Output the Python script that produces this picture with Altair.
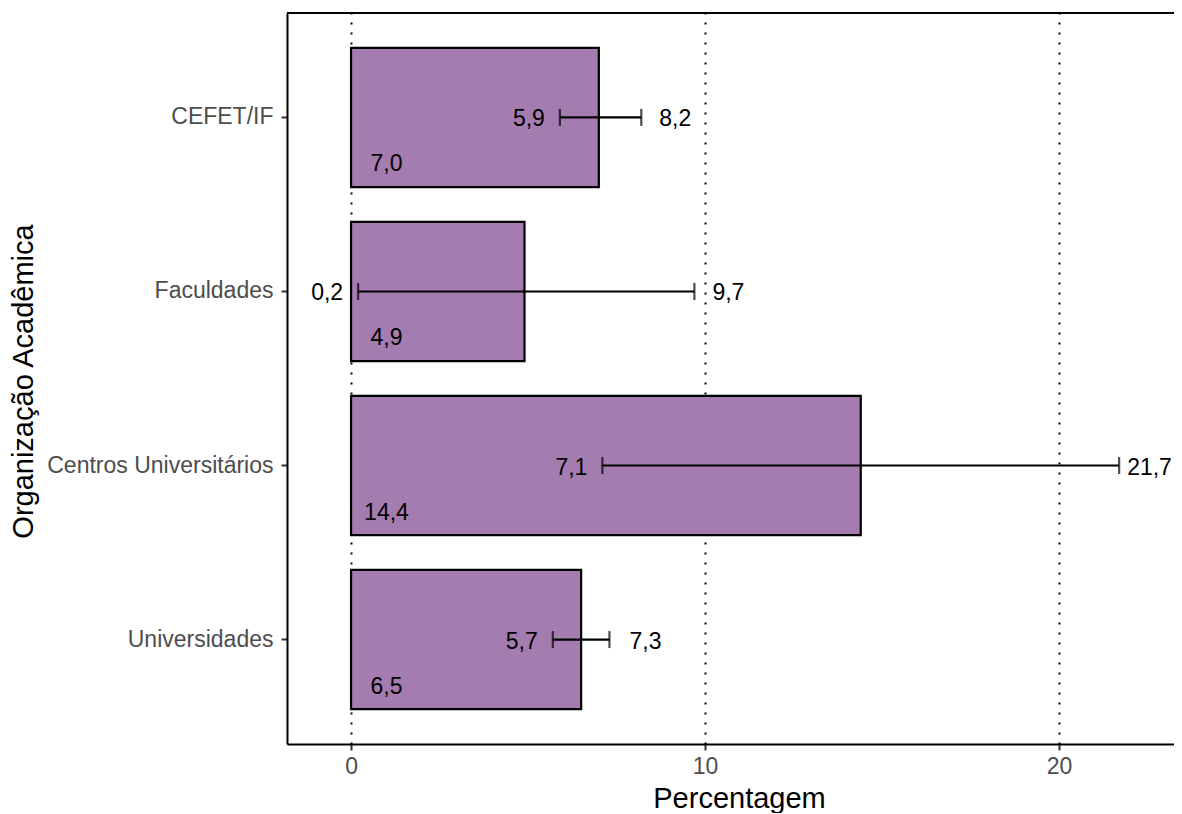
import altair as alt
import pandas as pd

categories = ["CEFET/IF", "Faculdades", "Centros Universitários", "Universidades"]
values = [7.0, 4.9, 14.4, 6.5]
lower = [5.9, 0.2, 7.1, 5.7]
upper = [8.2, 9.7, 21.7, 7.3]
upper_label_gap = [18, 18, 8, 20]


def fmt(v):
    return f"{v:.1f}".replace(".", ",")


df = pd.DataFrame({
    "cat": categories,
    "val": values,
    "lo": lower,
    "hi": upper,
    "gap": upper_label_gap,
    "val_lbl": [fmt(v) for v in values],
    "lo_lbl": [fmt(v) for v in lower],
    "hi_lbl": [fmt(v) for v in upper],
    "lbl_x": [1.0] * len(categories),
})

W = 887
H = 731
FONT = "Liberation Sans"

xscale = alt.Scale(domain=[-1.81, 23.25], nice=False, zero=False)
yscale = alt.Scale(domain=categories, paddingInner=0.2, paddingOuter=0.2)

xaxis = alt.Axis(
    values=[0, 10, 20], format="d", title="Percentagem",
    grid=True, gridColor="black", gridDash=[2, 8], gridWidth=2,
    domainColor="black", domainWidth=2, tickColor="#333333", tickWidth=2, tickSize=6,
    labelColor="#4d4d4d", labelFontSize=23, labelFont=FONT, labelPadding=5,
    titleFont=FONT, titleFontSize=29, titleFontWeight="normal", titleColor="black",
    titleX=452, titleY=63, titleBaseline="alphabetic", titleAlign="center",
)
yaxis = alt.Axis(
    title="Organização Acadêmica", grid=False,
    domainColor="black", domainWidth=2, tickColor="#333333", tickWidth=2, tickSize=6,
    labelColor="#4d4d4d", labelFontSize=23, labelFont=FONT, labelPadding=8, labelLimit=400,
    titleFont=FONT, titleFontSize=29, titleFontWeight="normal", titleColor="black",
    titleAngle=270, titleX=-264, titleY=368, titleAlign="center", titleBaseline="middle",
)

base = alt.Chart(df)

bars = base.mark_bar(color="#a57cb0", stroke="black", strokeWidth=2.2).encode(
    x=alt.X("val:Q", scale=xscale, axis=xaxis),
    y=alt.Y("cat:N", scale=yscale, axis=yaxis, sort=categories),
)

err_line = base.mark_rule(color="black", strokeWidth=2.2).encode(
    x=alt.X("lo:Q", scale=xscale), x2="hi:Q",
    y=alt.Y("cat:N", scale=yscale, sort=categories),
)
cap_lo = base.mark_tick(color="black", thickness=2.2, size=17, orient="vertical").encode(
    x=alt.X("lo:Q", scale=xscale),
    y=alt.Y("cat:N", scale=yscale, sort=categories),
)
cap_hi = base.mark_tick(color="black", thickness=2.2, size=17, orient="vertical").encode(
    x=alt.X("hi:Q", scale=xscale),
    y=alt.Y("cat:N", scale=yscale, sort=categories),
)

txt_kw = dict(font=FONT, fontSize=23, color="black", baseline="alphabetic")
val_txt = base.mark_text(align="center", dy=54, **txt_kw).encode(
    x=alt.X("lbl_x:Q", scale=xscale),
    y=alt.Y("cat:N", scale=yscale, sort=categories),
    text="val_lbl:N",
)
lo_txt = base.mark_text(align="right", dx=-15, dy=9, **txt_kw).encode(
    x=alt.X("lo:Q", scale=xscale),
    y=alt.Y("cat:N", scale=yscale, sort=categories),
    text="lo_lbl:N",
)

hi_layers = []
for g in sorted(set(upper_label_gap)):
    hi_layers.append(
        base.transform_filter(alt.datum.gap == g)
        .mark_text(align="left", dx=g, dy=9, **txt_kw)
        .encode(
            x=alt.X("hi:Q", scale=xscale),
            y=alt.Y("cat:N", scale=yscale, sort=categories),
            text="hi_lbl:N",
        )
    )

top_border = base.mark_rule(color="black", strokeWidth=2.2).encode(
    x=alt.value(0), x2=alt.value(W), y=alt.value(0),
)

chart = alt.layer(
    bars, err_line, cap_lo, cap_hi, val_txt, lo_txt, *hi_layers, top_border
).properties(
    width=W, height=H,
    autosize=alt.AutoSizeParams(type="none"),
    padding={"left": 279, "top": 5, "right": 0, "bottom": 69},
    background="white",
).configure_view(stroke=None)

chart.save("out.html", embed_options={"renderer": "svg", "actions": False})
